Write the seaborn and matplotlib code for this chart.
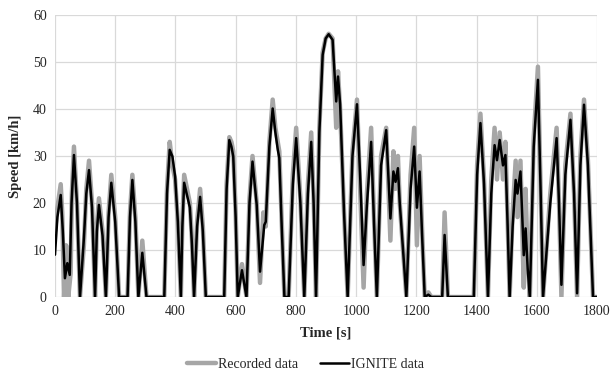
import pandas as pd
import matplotlib.pyplot as plt
import seaborn as sns

# IGNITE simulated speed trace (time in s, speed in km/h)
ignite_t = [0, 8, 19, 26, 33, 41, 49, 55, 63, 73, 83, 96, 104, 113, 123, 133, 139, 146, 158, 169,
            178, 187, 200, 213, 241, 249, 257, 267, 277, 290, 304, 363, 372, 381, 390, 399, 408,
            418, 423, 429, 448, 455, 462, 472, 482, 491, 501, 562, 570, 579, 586, 592, 600, 607,
            621, 636, 646, 656, 670, 681, 695, 700, 712, 723, 732, 740, 745, 753, 762, 776, 790,
            801, 815, 828, 840, 851, 859, 867, 878, 889, 899, 909, 922, 934, 940, 947, 960, 972,
            988, 1003, 1014, 1025, 1036, 1050, 1060, 1069, 1083, 1100, 1114, 1124, 1131, 1139,
            1145, 1156, 1167, 1181, 1193, 1202, 1211, 1220, 1228, 1240, 1250, 1286, 1294, 1305,
            1391, 1402, 1413, 1425, 1438, 1449, 1460, 1468, 1477, 1488, 1496, 1503, 1510, 1520,
            1530, 1536, 1546, 1557, 1563, 1570, 1577, 1590, 1604, 1612, 1621, 1645, 1666, 1674,
            1682, 1695, 1712, 1724, 1734, 1745, 1757, 1770, 1787, 1800]
ignite_v = [9, 17, 21.7, 14, 4, 7.2, 4.7, 20, 30.2, 20, 0, 12.5, 22, 27, 19, 0, 14, 19.6, 13, 0,
            17, 24.3, 16, 0, 0, 17, 24.9, 16, 0, 9.4, 0, 0, 22, 31.3, 29.9, 25.6, 16,
            0, 15, 24.3, 19, 11, 0, 15, 21.3, 14, 0, 0, 23, 33.4, 32, 29.9, 17, 0,
            5.7, 0, 20, 28.8, 19.6, 5.4, 15.3, 16, 32, 40.1, 35, 31.3, 29.6, 15, 0, 0, 24,
            33.8, 20, 0, 22, 33, 20, 0, 35, 51.5, 55, 55.9, 54.7, 41.6, 46.9, 41, 18, 0,
            30, 41, 25, 6.8, 19.6, 33, 15, 0, 28, 35.5, 16.7, 26.7, 24.5, 27.4,
            20, 10, 0, 23, 32, 19, 26.7, 12, 0, 0.5, 0, 0, 13.2, 0,
            0, 26, 37, 24, 0, 22, 32.3, 29.1, 33.4, 28, 30.2, 16, 0, 15,
            24.9, 22, 26.7, 8.9, 14.6, 6, 0, 32, 46.2, 25, 0, 20, 33.8, 20,
            2.6, 26, 37.7, 22, 0.8, 28, 40.9, 28, 0, 0]

# Recorded speed trace
rec_t = [0, 8, 19, 24, 30, 37, 44, 52, 56, 63, 73, 83, 96, 104, 113, 123, 133, 139, 146, 158, 169,
         178, 187, 200, 213, 241, 249, 257, 267, 277, 290, 304, 363, 372, 381, 390, 399, 408,
         418, 423, 429, 448, 455, 462, 472, 482, 491, 501, 562, 570, 579, 586, 592, 600, 607,
         621, 636, 646, 656, 670, 681, 692, 700, 712, 723, 732, 740, 745, 753, 762, 776, 790,
         801, 815, 828, 840, 851, 859, 867, 878, 889, 899, 909, 922, 934, 940, 947, 960, 972,
         988, 1003, 1014, 1025, 1036, 1050, 1060, 1069, 1083, 1100, 1114, 1124, 1131, 1139,
         1145, 1156, 1167, 1181, 1193, 1202, 1211, 1220, 1228, 1240, 1250, 1286, 1294, 1305,
         1391, 1402, 1413, 1425, 1438, 1449, 1460, 1468, 1477, 1488, 1496, 1503, 1510, 1520,
         1530, 1536, 1546, 1557, 1563, 1570, 1577, 1590, 1604, 1612, 1621, 1645, 1666, 1674,
         1682, 1695, 1712, 1724, 1734, 1745, 1757, 1770, 1787, 1800]
rec_v = [14, 19, 24, 18, 0, 11, 0, 5, 22, 32, 20, 0, 11, 23, 29, 20, 0, 15, 21, 14, 0,
         18, 26, 17, 0, 0, 18, 26, 17, 0, 12, 0, 0, 23, 33, 28, 25, 16,
         0, 16, 26, 20, 12, 0, 16, 23, 15, 0, 0, 24, 34, 33, 31, 18, 0,
         7, 0, 21, 30, 20, 3, 18, 15, 33, 42, 36, 33, 31, 16, 0, 0, 26,
         36, 21, 0, 24, 35, 21, 0, 36, 52, 55, 56, 55, 36, 48, 40, 18, 0,
         31, 42, 22, 2, 22, 36, 16, 0, 30, 36, 12, 31, 23, 30,
         20, 10, 0, 26, 36, 11, 30, 13, 0, 1, 0, 0, 18, 0,
         0, 28, 39, 25, 0, 25, 36, 25, 35, 25, 33, 17, 0, 18,
         29, 17, 29, 2, 23, 8, 0, 34, 49, 26, 0, 22, 36, 20,
         0, 28, 39, 22, 0, 30, 42, 29, 0, 0]

rec = pd.DataFrame({'t': rec_t, 'v': rec_v})
ign = pd.DataFrame({'t': ignite_t, 'v': ignite_v})

sns.set_style('whitegrid')
plt.rcParams['font.family'] = ['Liberation Serif', 'DejaVu Serif']

fig = plt.figure(figsize=(6.11, 3.83), dpi=100)
ax = fig.add_axes([0.09, 0.2245, 0.887, 0.7365])

sns.lineplot(data=rec, x='t', y='v', ax=ax, color='#a6a6a6', linewidth=3.2,
             label='Recorded data', sort=False, solid_joinstyle='round')
sns.lineplot(data=ign, x='t', y='v', ax=ax, color='black', linewidth=1.8,
             label='IGNITE data', sort=False, solid_joinstyle='round')

ax.set_xlim(0, 1800)
ax.set_ylim(0, 60)
ax.set_xticks(range(0, 1801, 200))
ax.set_yticks(range(0, 61, 10))
ax.grid(True, color='#d9d9d9', linewidth=0.9)
for s in ax.spines.values():
    s.set_visible(False)
ax.tick_params(length=0, labelsize=10, pad=6)

ax.set_xlabel('Time [s]', fontsize=10.5, fontweight='bold', labelpad=6)
ax.set_ylabel('Speed [km/h]', fontsize=10.5, fontweight='bold', labelpad=8)

ax.legend(loc='lower center', bbox_to_anchor=(0.5, 0.0), bbox_transform=fig.transFigure,
          ncol=2, frameon=False, fontsize=10, handlelength=2.1, handletextpad=0.15,
          columnspacing=1.6)

plt.savefig('out.png', dpi=100)
